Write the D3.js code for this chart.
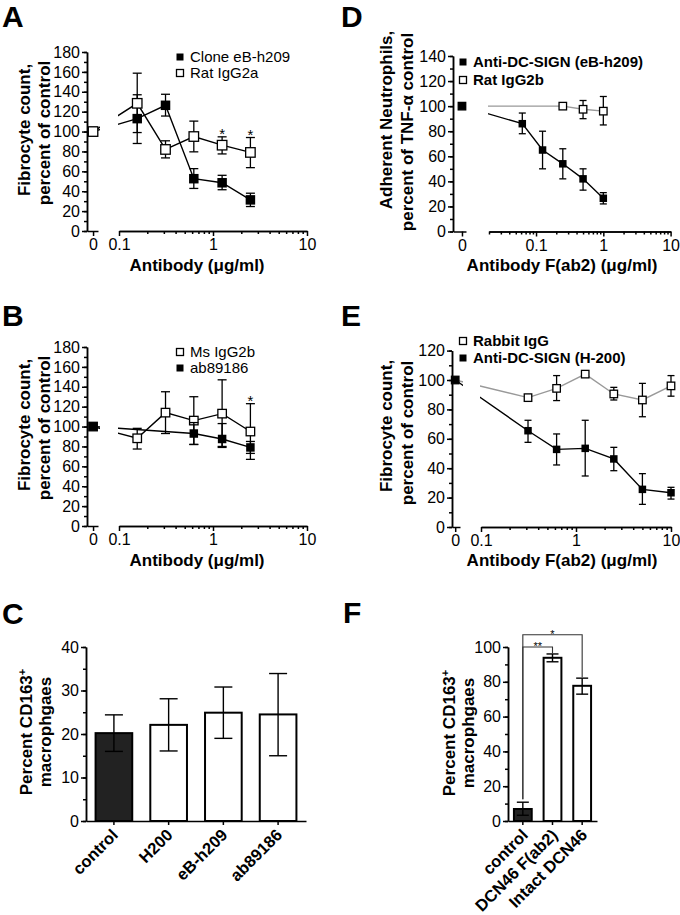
<!DOCTYPE html>
<html><head><meta charset="utf-8">
<script src="https://cdn.jsdelivr.net/npm/d3@7"></script>
<style>
body{margin:0;background:#fff}
svg{display:block;font-family:"Liberation Sans",Arial,Helvetica,sans-serif}
</style>
</head><body>
<svg id="c" width="680" height="915"></svg>
<script>
// ---------------- DATA ----------------
const zeroLabel = ["0"];
const logTickVals = [0.1, 1, 10];
const logTickLabels = ["0.1", "1", "10"];

// Panel A
const concA = [0.15625, 0.3125, 0.625, 1.25, 2.5];
const A_clone = [113, 126.4, 52.6, 48.5, 31.3];
const A_clone_lo = [88, 115.6, 42.8, 41.5, 24.6];
const A_clone_hi = [137, 137.5, 62.7, 56, 38];
const A_rat = [128.4, 82, 95, 86.3, 79];
const A_rat_lo = [99, 73.5, 79.6, 77.5, 63.7];
const A_rat_hi = [158.7, 90.7, 110.5, 94.7, 94];
const A_stars = [1.25, 2.5];
const A_yTicks = [0, 20, 40, 60, 80, 100, 120, 140, 160, 180];

// Panel B
const concB_ms = [0.15625, 0.3125, 0.625, 1.25, 2.5];
const B_ms = [88.2, 114, 106, 113, 95];
const B_ms_lo = [77.4, 93, 82, 79, 67];
const B_ms_hi = [98.2, 135, 130, 147, 123];
const concB_ab = [0.625, 1.25, 2.5];
const B_ab = [93, 87.5, 79];
const B_ab_lo = [82, 80, 73];
const B_ab_hi = [104, 103, 85];
const B_stars = [2.5];
const B_yTicks = [0, 20, 40, 60, 80, 100, 120, 140, 160, 180];

// Panel D
const concD_anti = [0.0625, 0.125, 0.25, 0.5, 1];
const D_anti = [86, 65, 54, 42, 26.5];
const D_anti_lo = [78, 50, 42, 33, 22];
const D_anti_hi = [94.5, 80, 66, 50, 31];
const concD_rat = [0.25, 0.5, 1];
const D_rat = [100, 97.5, 96];
const D_rat_lo = [100, 90, 85];
const D_rat_hi = [100, 104.5, 107.7];
const D_yTicks = [0, 20, 40, 60, 80, 100, 120, 140];

// Panel E
const concE = [0.3125, 0.625, 1.25, 2.5, 5, 10];
const E_rabbit = [88, 94.3, 104, 90.5, 86.4, 96];
const E_rabbit_lo = [88, 86, 104, 86.4, 75, 89];
const E_rabbit_hi = [88, 103, 104, 95, 97.7, 103];
const E_anti = [65.5, 52.8, 53.5, 46.3, 25.6, 23.3];
const E_anti_lo = [57.6, 42.2, 34.7, 38.3, 15.4, 19];
const E_anti_hi = [72.6, 63.3, 72.6, 54.2, 36.3, 27];
const E_yTicks = [0, 20, 40, 60, 80, 100, 120];

// Control values (0 µg/ml)
const controlValue = 100;

// Panel C
const C_cats = ["control", "H200", "eB-h209", "ab89186"];
const C_mean = [20.2, 22.1, 24.9, 24.5];
const C_lo = [16, 16.1, 19, 15];
const C_hi = [24.4, 28.1, 30.8, 33.9];
const C_yTicks = [0, 10, 20, 30, 40];

// Panel F
const F_cats = ["control", "DCN46 F(ab2)", "Intact DCN46"];
const F_mean = [6.9, 93.8, 77.7];
const F_lo = [3.3, 91.5, 72.9];
const F_hi = [10.8, 96, 82.1];
const F_yTicks = [0, 20, 40, 60, 80, 100];
const F_brackets = [
  {from: 0, to: 1, level: 100, label: "**"},
  {from: 0, to: 2, level: 107, label: "*"}
];

// ---------------- DRAWING ----------------
const svg = d3.select("#c");
const FONT_TICK = 16, FONT_TITLE = 17;

function styleAxis(sel) {
  sel.attr("font-family", null).attr("font-size", null);
  sel.selectAll("path,line").attr("stroke", "#000").attr("stroke-width", 1.5);
  sel.selectAll("text").attr("font-size", FONT_TICK).attr("fill", "#000");
}

function marker(g, cx, cy, size, filled) {
  g.append("rect")
    .attr("x", cx - size / 2).attr("y", cy - size / 2)
    .attr("width", size).attr("height", size)
    .attr("fill", filled ? "#000" : "#fff")
    .attr("stroke", "#000").attr("stroke-width", filled ? 0 : 1.3);
}

function minorLog(domain) {
  const out = [];
  for (let e = -2; e <= 1; e++) for (let m = 2; m <= 9; m++) {
    const v = +(m * Math.pow(10, e)).toPrecision(6);
    if (v >= domain[0] - 1e-9 && v <= domain[1] + 1e-9) out.push(v);
  }
  return out;
}

function yTitle(g, lines, xs, ys) {
  lines.forEach((t, i) => {
    const tx = g.append("text")
      .attr("transform", `translate(${xs[i]},${ys[i]}) rotate(-90)`)
      .attr("text-anchor", "middle").attr("dy", "0.35em")
      .attr("font-weight", "bold").attr("font-size", FONT_TITLE);
    if (Array.isArray(t)) {
      tx.append("tspan").text(t[0]);
      tx.append("tspan").attr("dy", "-0.55em").attr("font-size", 11).text(t[1]);
    } else tx.text(t);
  });
}

function panelLetter(t, x, y) {
  svg.append("text").attr("x", x).attr("y", y).attr("font-size", 30)
    .attr("font-weight", "bold").text(t);
}

function xyPanel(c) {
  const g = svg.append("g");
  const y = d3.scaleLinear().domain([0, c.yMax]).range([c.y0, c.yTop]);
  const x = d3.scaleLog().domain(c.xDomain).range([c.logStart, c.logEnd]);
  const x0 = d3.scalePoint().domain(zeroLabel).range([c.ax, c.zeroEnd]).align(c.zeroAlign);
  const px = d => d.c === 0 ? x0(zeroLabel[0]) : x(d.c);

  // y axis
  g.append("g").attr("transform", `translate(${c.ax},0)`)
    .call(d3.axisLeft(y).tickValues(d3.range(0, c.yMax + 0.1, c.yMinor)).tickSize(3).tickFormat("").tickSizeOuter(0))
    .call(styleAxis);
  g.append("g").attr("transform", `translate(${c.ax},0)`)
    .call(d3.axisLeft(y).tickValues(c.yTicks).tickSize(5).tickPadding(2).tickSizeOuter(0))
    .call(styleAxis);
  // zero segment
  g.append("g").attr("transform", `translate(0,${c.y0})`)
    .call(d3.axisBottom(x0).tickSize(5).tickPadding(3).tickSizeOuter(0))
    .call(styleAxis);
  // log axis
  g.append("g").attr("transform", `translate(0,${c.y0})`)
    .call(d3.axisBottom(x).tickValues(minorLog(c.xDomain)).tickSize(3).tickFormat("").tickSizeOuter(0))
    .call(styleAxis);
  g.append("g").attr("transform", `translate(0,${c.y0})`)
    .call(d3.axisBottom(x).tickValues(logTickVals).tickFormat((d, i) => logTickLabels[i]).tickSize(5).tickPadding(3).tickSizeOuter(0))
    .call(styleAxis);

  // clip for connecting lines (broken axis)
  const id = "clip" + c.id;
  const cp = g.append("clipPath").attr("id", id);
  cp.append("rect").attr("x", c.ax).attr("y", 0).attr("width", c.zeroEnd - c.ax + c.stub).attr("height", 915);
  cp.append("rect").attr("x", c.logStart - 1).attr("y", 0).attr("width", 680 - c.logStart + 1).attr("height", 915);

  c.series.forEach(s => {
    const pts = [{c: 0, v: controlValue}].concat(
      s.conc.map((cc, i) => ({c: cc, v: s.mean[i], lo: s.lo[i], hi: s.hi[i]})));
    g.append("path")
      .attr("d", d3.line().x(px).y(d => y(d.v))(pts))
      .attr("fill", "none").attr("stroke", s.color).attr("stroke-width", 1.4)
      .attr("clip-path", `url(#${id})`);
    pts.forEach(d => {
      if (d.lo === undefined || d.lo === d.hi) return;
      const cx = px(d);
      g.append("line").attr("x1", cx).attr("x2", cx).attr("y1", y(d.lo)).attr("y2", y(d.hi))
        .attr("stroke", "#000").attr("stroke-width", 1.3);
      [d.lo, d.hi].forEach(v => g.append("line")
        .attr("x1", cx - c.cap / 2).attr("x2", cx + c.cap / 2).attr("y1", y(v)).attr("y2", y(v))
        .attr("stroke", "#000").attr("stroke-width", 1.3));
    });
    pts.forEach(d => marker(g, px(d), y(d.v), c.ms, s.filled));
    (s.stars || []).forEach(sc => {
      const i = s.conc.indexOf(sc);
      g.append("text").attr("x", x(sc)).attr("y", y(s.hi[i]) + 2)
        .attr("text-anchor", "middle").attr("font-size", 15).text("*");
    });
  });

  // legend
  c.legend.items.forEach((it, i) => {
    const ly = c.legend.ys[i];
    marker(g, c.legend.x, ly, 7, it.filled);
    g.append("text").attr("x", c.legend.x + 10).attr("y", ly).attr("dy", "0.35em")
      .attr("font-size", 15).attr("font-weight", c.legend.bold ? "bold" : "normal").text(it.label);
  });

  // titles
  g.append("text").attr("x", c.xTitlePos[0]).attr("y", c.xTitlePos[1]).attr("text-anchor", "middle")
    .attr("font-weight", "bold").attr("font-size", FONT_TITLE).text(c.xTitle);
  yTitle(g, c.yTitle, c.yTitleX, c.yTitleY);
}

function barPanel(c) {
  const g = svg.append("g");
  const y = d3.scaleLinear().domain([0, c.yMax]).range([c.y0, c.yTop]);
  const x = d3.scaleBand().domain(c.cats).range([c.ax, c.xEnd]).paddingInner(c.pi).paddingOuter(c.po);
  const bw = x.bandwidth();

  g.append("g").attr("transform", `translate(${c.ax},0)`)
    .call(d3.axisLeft(y).tickValues(d3.range(0, c.yMax + 0.1, c.yMinor)).tickSize(3).tickFormat("").tickSizeOuter(0))
    .call(styleAxis);
  g.append("g").attr("transform", `translate(${c.ax},0)`)
    .call(d3.axisLeft(y).tickValues(c.yTicks).tickSize(5).tickPadding(2).tickSizeOuter(0))
    .call(styleAxis);

  g.append("g").attr("transform", `translate(0,${c.y0})`)
    .call(d3.axisBottom(x).tickSize(4).tickSizeOuter(0).tickFormat(""))
    .call(styleAxis);

  c.cats.forEach((cat, i) => {
    const cx = x(cat) + bw / 2;
    g.append("rect").attr("x", x(cat)).attr("y", y(c.mean[i]))
      .attr("width", bw).attr("height", y(0) - y(c.mean[i]))
      .attr("fill", i === 0 ? "#222" : "#fff").attr("stroke", "#000").attr("stroke-width", 2);
    g.append("line").attr("x1", cx).attr("x2", cx).attr("y1", y(c.lo[i])).attr("y2", y(c.hi[i]))
      .attr("stroke", "#000").attr("stroke-width", 1.4);
    [c.lo[i], c.hi[i]].forEach(v => g.append("line")
      .attr("x1", cx - c.cap / 2).attr("x2", cx + c.cap / 2).attr("y1", y(v)).attr("y2", y(v))
      .attr("stroke", "#000").attr("stroke-width", 1.4));
    g.append("text")
      .attr("transform", `translate(${cx + c.lblDx},${c.y0 + 11}) rotate(-45)`)
      .attr("text-anchor", "end").attr("dy", "0.35em")
      .attr("font-weight", "bold").attr("font-size", 16.5).text(cat);
  });

  (c.brackets || []).forEach(b => {
    const x1 = x(c.cats[b.from]) + bw / 2, x2 = x(c.cats[b.to]) + bw / 2;
    const yl = y(b.level);
    g.append("path")
      .attr("d", `M${x1},${y(c.hi[b.from]) - 3}V${yl}H${x2}V${y(c.hi[b.to]) - 1}`)
      .attr("fill", "none").attr("stroke", "#333").attr("stroke-width", 1.1);
    g.append("text").attr("x", (x1 + x2) / 2).attr("y", yl + 3).attr("text-anchor", "middle")
      .attr("font-size", 11).attr("fill", "#000").text(b.label);
  });

  yTitle(g, c.yTitle, c.yTitleX, c.yTitleY);
}

// ---------- Panels ----------
panelLetter("A", 2, 27);
xyPanel({
  id: "A", ax: 87, y0: 231, yTop: 52, yMax: 180, yTicks: A_yTicks, yMinor: 10,
  xDomain: [0.1, 10], logStart: 119, logEnd: 307, zeroEnd: 98, zeroAlign: 0.55, stub: 2,
  ms: 9.5, cap: 9,
  series: [
    {conc: concA, mean: A_clone, lo: A_clone_lo, hi: A_clone_hi, filled: true, color: "#000"},
    {conc: concA, mean: A_rat, lo: A_rat_lo, hi: A_rat_hi, filled: false, color: "#000", stars: A_stars}
  ],
  legend: {x: 180, ys: [57, 73], bold: false, items: [{label: "Clone eB-h209", filled: true}, {label: "Rat IgG2a", filled: false}]},
  xTitle: "Antibody (\u03bcg/ml)", xTitlePos: [197, 271],
  yTitle: ["Fibrocyte count,", "percent of control"], yTitleX: [24, 44], yTitleY: [130, 133]
});

panelLetter("B", 2, 326);
xyPanel({
  id: "B", ax: 87, y0: 526, yTop: 347, yMax: 180, yTicks: B_yTicks, yMinor: 10,
  xDomain: [0.1, 10], logStart: 119, logEnd: 307, zeroEnd: 98, zeroAlign: 0.55, stub: 2,
  ms: 8.5, cap: 9,
  series: [
    {conc: concB_ms, mean: B_ms, lo: B_ms_lo, hi: B_ms_hi, filled: false, color: "#000", stars: B_stars},
    {conc: concB_ab, mean: B_ab, lo: B_ab_lo, hi: B_ab_hi, filled: true, color: "#000"}
  ],
  legend: {x: 180, ys: [352, 368], bold: false, items: [{label: "Ms IgG2b", filled: false}, {label: "ab89186", filled: true}]},
  xTitle: "Antibody (\u03bcg/ml)", xTitlePos: [197, 566],
  yTitle: ["Fibrocyte count,", "percent of control"], yTitleX: [24, 44], yTitleY: [425, 428]
});

panelLetter("D", 341, 27);
xyPanel({
  id: "D", ax: 453, y0: 231.5, yTop: 56, yMax: 140, yTicks: D_yTicks, yMinor: 10,
  xDomain: [0.02, 10], logStart: 489, logEnd: 670.6, zeroEnd: 466, zeroAlign: 0.69, stub: 0,
  ms: 7.5, cap: 7,
  series: [
    {conc: concD_rat, mean: D_rat, lo: D_rat_lo, hi: D_rat_hi, filled: false, color: "#999"},
    {conc: concD_anti, mean: D_anti, lo: D_anti_lo, hi: D_anti_hi, filled: true, color: "#000"}
  ],
  legend: {x: 463, ys: [62, 80], bold: true, items: [{label: "Anti-DC-SIGN (eB-h209)", filled: true}, {label: "Rat IgG2b", filled: false}]},
  xTitle: "Antibody F(ab2) (\u03bcg/ml)", xTitlePos: [562, 271],
  yTitle: ["Adherent Neutrophils,", "percent of TNF-\u03b1 control"], yTitleX: [386, 407], yTitleY: [120, 132]
});

panelLetter("E", 341, 326);
xyPanel({
  id: "E", ax: 452, y0: 527, yTop: 350.6, yMax: 120, yTicks: E_yTicks, yMinor: 10,
  xDomain: [0.1, 10], logStart: 481, logEnd: 671, zeroEnd: 460, zeroAlign: 0.4, stub: 3,
  ms: 7.5, cap: 7,
  series: [
    {conc: concE, mean: E_rabbit, lo: E_rabbit_lo, hi: E_rabbit_hi, filled: false, color: "#999"},
    {conc: concE, mean: E_anti, lo: E_anti_lo, hi: E_anti_hi, filled: true, color: "#000"}
  ],
  legend: {x: 463, ys: [341, 358], bold: true, items: [{label: "Rabbit IgG", filled: false}, {label: "Anti-DC-SIGN (H-200)", filled: true}]},
  xTitle: "Antibody F(ab2) (\u03bcg/ml)", xTitlePos: [562, 566],
  yTitle: ["Fibrocyte count,", "percent of control"], yTitleX: [386, 407], yTitleY: [426, 433]
});

panelLetter("C", 2, 624);
barPanel({
  ax: 86, xEnd: 306, y0: 821, yTop: 647, yMax: 40, yTicks: C_yTicks, yMinor: 5,
  cats: C_cats, mean: C_mean, lo: C_lo, hi: C_hi, pi: 0.33, po: 0.175, cap: 18, lblDx: 1,
  yTitle: [["Percent CD163", "+"], "macrophgaes"], yTitleX: [26, 45], yTitleY: [732, 732]
});

panelLetter("F", 343, 623);
barPanel({
  ax: 508, xEnd: 597, y0: 821, yTop: 647, yMax: 100, yTicks: F_yTicks, yMinor: 10,
  cats: F_cats, mean: F_mean, lo: F_lo, hi: F_hi, pi: 0.4, po: 0.2, cap: 12, lblDx: 2,
  brackets: F_brackets,
  yTitle: [["Percent CD163", "+"], "macrophgaes"], yTitleX: [449, 468], yTitleY: [733, 733]
});
</script>
</body></html>
